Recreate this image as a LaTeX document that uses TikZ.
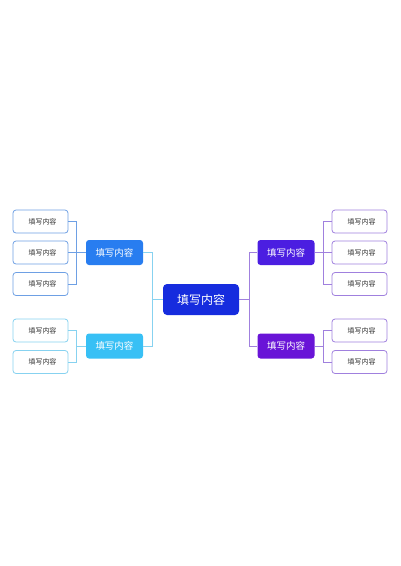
\documentclass[tikz,border=0pt]{standalone}
\usepackage{fontspec}
\setmainfont{Noto Sans CJK SC}
\definecolor{hubblue}{RGB}{22,44,222}
\definecolor{lufill}{RGB}{40,125,240}
\definecolor{llfill}{RGB}{56,192,245}
\definecolor{rufill}{RGB}{75,30,225}
\definecolor{rlfill}{RGB}{105,20,215}
\definecolor{luline}{RGB}{110,160,228}
\definecolor{llline}{RGB}{135,210,240}
\definecolor{rline}{RGB}{160,128,222}
\definecolor{leaftext}{RGB}{50,50,50}

\tikzset{
	hub/.style = {rounded corners = 4pt, fill = hubblue, text = white, inner sep = 0,
		minimum width = 76pt, minimum height = 31pt, font = \fontsize{12}{14}\selectfont},
	branch/.style = {rounded corners = 3pt, text = white, inner sep = 0,
		minimum width = 57pt, minimum height = 25pt, font = \fontsize{9.5}{11}\selectfont},
	leaf/.style = {draw, rounded corners = 3pt, fill = white, line width = 0.8pt, inner sep = 0,
		minimum width = 55pt, minimum height = 23pt, text = leaftext, font = \fontsize{7}{8}\selectfont,
		execute at begin node = \hspace*{4pt}},
	link/.style = {line width = 0.8pt}
}

\begin{document}
\begin{tikzpicture}[x = 1pt, y = -1pt]
	\useasboundingbox (0,0) rectangle (400,566);
	\node [hub] (hub) at (201,299.5) {填写内容};
	\node [branch, fill = lufill] (lu) at (114.5,252.5) {填写内容};
	\node [branch, fill = llfill] (ll) at (114.5,346) {填写内容};
	\node [branch, fill = rufill] (ru) at (286,252.5) {填写内容};
	\node [branch, fill = rlfill] (rl) at (286,346) {填写内容};
	\draw [link, llline] (hub.west) -- ++(-10,0) |- (lu.east);
	\draw [link, llline] (hub.west) -- ++(-10,0) |- (ll.east);
	\draw [link, rline] (hub.east) -- ++(10,0) |- (ru.west);
	\draw [link, rline] (hub.east) -- ++(10,0) |- (rl.west);
	% leaves
	\foreach \i/\y in {1/221.5, 2/252.5, 3/284} {
		\node [leaf, draw = luline] (lu\i) at (40.5,\y) {填写内容};
		\draw [link, luline] (lu.west) -- ++(-9,0) |- (lu\i.east);
		\node [leaf, draw = rline] (ru\i) at (359.5,\y) {填写内容};
		\draw [link, rline] (ru.east) -- ++(9,0) |- (ru\i.west);
	}
	\foreach \i/\y in {1/330.5, 2/362} {
		\node [leaf, draw = llline] (ll\i) at (40.5,\y) {填写内容};
		\draw [link, llline] (ll.west) -- ++(-9,0) |- (ll\i.east);
		\node [leaf, draw = rline] (rl\i) at (359.5,\y) {填写内容};
		\draw [link, rline] (rl.east) -- ++(9,0) |- (rl\i.west);
	}
\end{tikzpicture}
\end{document}
